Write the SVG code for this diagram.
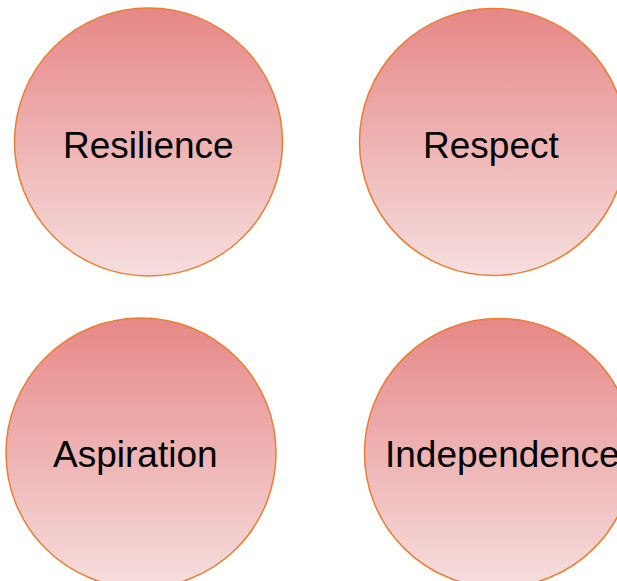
<svg xmlns="http://www.w3.org/2000/svg" width="617" height="581" viewBox="0 0 617 581">
  <style>
    .node circle { fill: url(#pink); stroke: #ED7D31; stroke-width: 1.5; }
    .node text { font-family: "Liberation Sans", Arial, sans-serif; font-size: 37px; fill: #000; }
  </style>
  <defs>
    <linearGradient id="pink" x1="0" y1="0" x2="0" y2="1">
      <stop offset="0" stop-color="#E68887"/>
      <stop offset="1" stop-color="#F6DEDE"/>
    </linearGradient>
  </defs>
  <rect width="617" height="581" fill="#fff"/>
  <g id="resilience" class="node">
    <circle cx="148.5" cy="142" r="134"/>
    <text x="63" y="158">Resilience</text>
  </g>
  <g id="respect" class="node">
    <circle cx="493" cy="142" r="133.5"/>
    <text x="423" y="158">Respect</text>
  </g>
  <g id="aspiration" class="node">
    <circle cx="141" cy="453" r="135"/>
    <text x="53" y="467">Aspiration</text>
  </g>
  <g id="independence" class="node">
    <circle cx="499" cy="453" r="134.5"/>
    <text x="385" y="467">Independence</text>
  </g>
  <g id="connectors"/>
</svg>
